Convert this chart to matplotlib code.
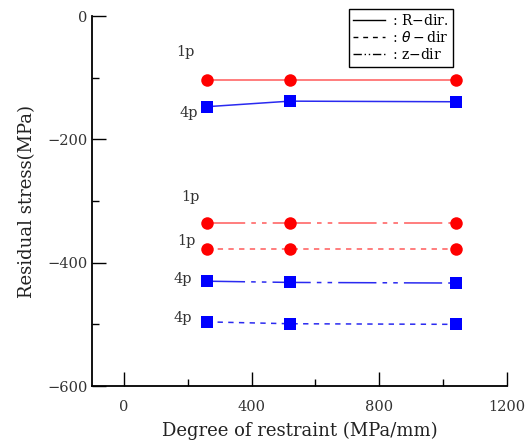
import matplotlib
matplotlib.use("Agg")
import matplotlib.pyplot as plt
from matplotlib.lines import Line2D
from matplotlib.ticker import MultipleLocator

plt.rcParams['font.family'] = ['DejaVu Serif']
plt.rcParams['axes.unicode_minus'] = True

restraint = [260, 520, 1040]
r_dir_1p = [-104, -104, -104]
r_dir_4p = [-147, -138, -139]
z_dir_1p = [-335, -335, -335]
theta_1p = [-378, -378, -378]
z_dir_4p = [-430, -432, -433]
theta_4p = [-496, -499, -500]

labels = [("1p", 192, -58), ("4p", 202, -157), ("1p", 208, -293),
          ("1p", 195, -365), ("4p", 183, -426), ("4p", 186, -490)]

fig = plt.figure(figsize=(5.31, 4.46), dpi=100)
ax = fig.add_axes([0.173, 0.1345, 0.782, 0.8295])

zdash = (0, (25, 4, 3, 4, 3, 4))
tdash = (0, (3.5, 3.5))
red_line = '#ff5a5a'
blue_line = '#2a2af0'

def series(y, lc, mc, marker, ms, ls):
    ax.plot(restraint, y, color=lc, lw=1.1, ls=ls, zorder=2)
    ax.plot(restraint, y, ls='none', marker=marker, ms=ms, mew=0, color=mc, zorder=3)

series(r_dir_1p, red_line, 'red', 'o', 9, '-')
series(r_dir_4p, blue_line, 'blue', 's', 8, '-')
series(z_dir_1p, red_line, 'red', 'o', 9, zdash)
series(theta_1p, red_line, 'red', 'o', 9, tdash)
series(z_dir_4p, blue_line, 'blue', 's', 8, zdash)
series(theta_4p, blue_line, 'blue', 's', 8, tdash)

for t, x, y in labels:
    ax.text(x, y, t, fontsize=10.5, color='#333333', ha='center', va='center')

ax.set_xlim(-100, 1200)
ax.set_ylim(-600, 0)
ax.xaxis.set_major_locator(MultipleLocator(400))
ax.xaxis.set_minor_locator(MultipleLocator(200))
ax.yaxis.set_major_locator(MultipleLocator(200))
ax.yaxis.set_minor_locator(MultipleLocator(100))
ax.tick_params(which='major', direction='in', length=10, width=1, labelsize=10.5,
               labelcolor='#333333', pad=10)
ax.tick_params(which='minor', direction='in', length=5, width=1)
ax.tick_params(axis='y', which='major', pad=3)
ax.spines['top'].set_visible(False)
ax.spines['right'].set_visible(False)
ax.spines['left'].set_linewidth(1.3)
ax.spines['bottom'].set_linewidth(1.3)

ax.set_xlabel('Degree of restraint (MPa/mm)', fontsize=13, color='#222222', labelpad=6)
ax.set_ylabel('Residual stress(MPa)', fontsize=13, color='#222222', labelpad=8)

handles = [Line2D([], [], color='black', lw=1, ls='-'),
           Line2D([], [], color='black', lw=1, ls=tdash),
           Line2D([], [], color='black', lw=1, ls=(0, (6, 2, 1, 2, 1, 2)))]
leg = fig.legend(handles, [r': R$-$dir.', r': $\theta-$dir', r': z$-$dir'],
                 loc='upper right', bbox_to_anchor=(453 / 531, 1 - 9 / 446),
                 fontsize=10, frameon=True, fancybox=False, edgecolor='black',
                 framealpha=1, handlelength=2.3, handletextpad=0.5,
                 borderpad=0.3, labelspacing=0.15, borderaxespad=0)
leg.get_frame().set_linewidth(1.0)

fig.savefig('out.png', dpi=100)
